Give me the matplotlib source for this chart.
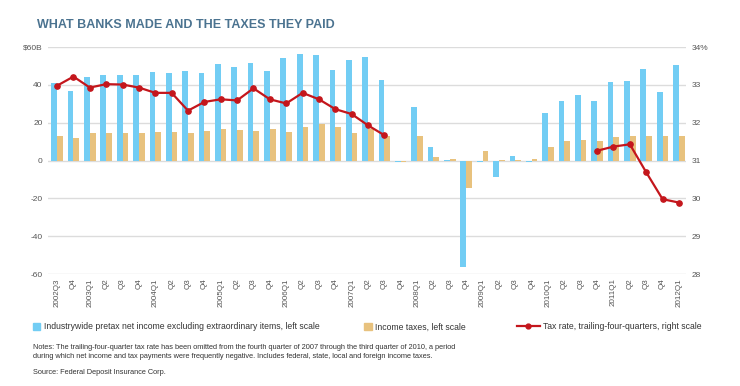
import numpy as np
import matplotlib
matplotlib.use("Agg")
import matplotlib.pyplot as plt
from matplotlib.patches import Patch
from matplotlib.lines import Line2D

plt.rcParams['font.family'] = ['Liberation Sans', 'DejaVu Sans']

# quarter labels, 2002Q3 .. 2012Q1
quarters = ['2002Q3', 'Q4']
for yr in range(2003, 2012):
    quarters += [f'{yr}Q1', 'Q2', 'Q3', 'Q4']
quarters += ['2012Q1']

# pretax net income excl. extraordinary items, $B
income = [41, 37, 44, 45.1, 45.5, 45.3, 46.9, 46.3, 47.6, 46.3,
          50.8, 49.7, 51.7, 47.2, 54.3, 56.5, 55.6, 48.0, 53.3, 55.0,
          42.8, -1.0, 28.3, 7.0, 0.5, -56.5, -1.0, -8.5, 2.6, -0.5,
          25.0, 31.4, 34.9, 31.7, 41.4, 42.0, 48.5, 36.0, 50.6]

# income taxes, $B
taxes = [13.2, 12.0, 14.6, 14.8, 14.8, 14.5, 15.3, 15.2, 14.8, 15.5,
         16.8, 16.0, 15.9, 16.8, 15.0, 17.6, 19.4, 18.0, 14.8, 16.9,
         13.2, -0.8, 13.2, 2.1, 0.9, -14.5, 4.8, 0.3, 0.3, 0.9,
         7.4, 10.2, 10.9, 10.2, 12.7, 13.2, 13.2, 13.2, 13.2]

# tax rate, trailing four quarters, % (omitted 2007Q4 - 2010Q3)
nan = np.nan
tax_rate = [32.98, 33.22, 32.93, 33.02, 33.01, 32.93, 32.79, 32.79, 32.32, 32.55,
            32.62, 32.59, 32.91, 32.62, 32.51, 32.79, 32.62, 32.36, 32.23, 31.93,
            31.67, nan, nan, nan, nan, nan, nan, nan, nan, nan,
            nan, nan, nan, 31.26, 31.37, 31.43, 30.69, 29.98, 29.89]

blue = '#72cdf4'
tan = '#e8c27e'
red = '#c4161c'
grid = '#dcdcdc'
txt = '#555555'

x = np.arange(len(quarters))
w = 0.35

fig = plt.figure(figsize=(7.4, 3.86), dpi=100)
ax = fig.add_axes([0.065, 0.29, 0.862, 0.588])
ax2 = ax.twinx()

ax.bar(x - w / 2, income, w, color=blue, zorder=2)
ax.bar(x + w / 2, taxes, w, color=tan, zorder=2)
ax2.plot(x, tax_rate, color=red, lw=1.6, marker='o', ms=3.8, zorder=3)

ax.set_xlim(-0.55, len(quarters) - 0.57)
ax.set_ylim(-60, 60)
ax.set_yticks(range(-60, 61, 20))
ax.set_yticklabels(['-60', '-40', '-20', '0', '20', '40', '$60B'])
ax2.set_ylim(28, 34)
ax2.set_yticks(range(28, 35))
ax2.set_yticklabels(['28', '29', '30', '31', '32', '33', '34%'])

ax.yaxis.grid(True, color=grid, lw=1, zorder=0)
ax.set_axisbelow(True)
for a in (ax, ax2):
    for s in a.spines.values():
        s.set_visible(False)
    a.tick_params(length=0, labelsize=6, labelcolor=txt)
ax.tick_params(axis='y', pad=4)
ax2.tick_params(axis='y', pad=4)

ax.set_xticks(x)
ax.set_xticklabels(quarters, rotation=90, fontsize=5.8, color=txt)
ax.tick_params(axis='x', pad=3)

fig.text(0.05, 0.928, 'WHAT BANKS MADE AND THE TAXES THEY PAID', fontsize=9.0,
         fontweight='bold', color='#4b7390')

leg_items = [
    (Patch(color=blue), 'Industrywide pretax net income excluding extraordinary items, left scale', 0.044),
    (Patch(color=tan), 'Income taxes, left scale', 0.492),
    (Line2D([], [], color=red, lw=1.6, marker='o', ms=3.5), 'Tax rate, trailing-four-quarters, right scale', 0.699),
]
for h, lab, xpos in leg_items:
    lg = fig.legend([h], [lab], loc='center left', bbox_to_anchor=(xpos, 0.153),
                    frameon=False, fontsize=6.2, handlelength=0.9 if isinstance(h, Patch) else 2.6,
                    handleheight=0.9, handletextpad=0.4, borderpad=0, borderaxespad=0)
    for t in lg.get_texts():
        t.set_color('#333333')

fig.text(0.045, 0.068, 'Notes: The trailing-four-quarter tax rate has been omitted from the fourth quarter of 2007 through the third quarter of 2010, a period\n'
         'during which net income and tax payments were frequently negative. Includes federal, state, local and foreign income taxes.',
         fontsize=5.3, color='#333333', va='bottom', linespacing=1.4)
fig.text(0.045, 0.025, 'Source: Federal Deposit Insurance Corp.', fontsize=5.3, color='#333333', va='bottom')

fig.savefig('out.png', dpi=100)
